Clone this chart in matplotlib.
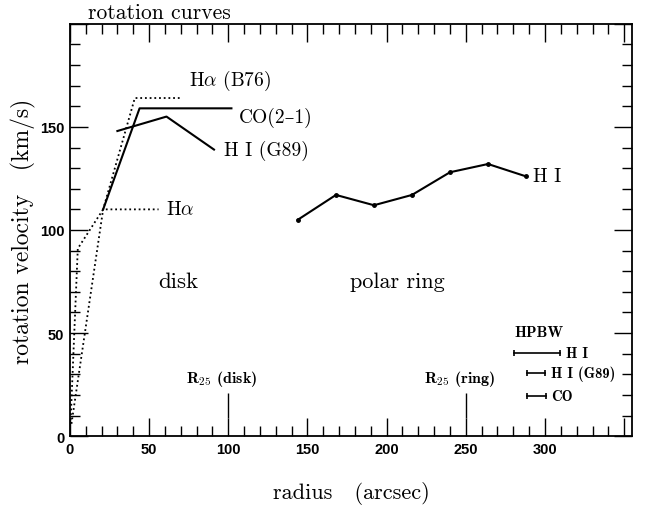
#!/usr/bin/env python3
"""Rotation curves of the disk and the polar ring."""

import matplotlib
matplotlib.use('Agg')
import matplotlib.pyplot as plt
from matplotlib.ticker import MultipleLocator

plt.rcParams['mathtext.fontset'] = 'cm'
plt.rcParams['axes.unicode_minus'] = False

SERIF = ['cmr10', 'DejaVu Serif']
BOLD_SERIF = ['cmb10', 'DejaVu Serif']
TICK_FONT = 'Liberation Sans'

# Disk curves (radius arcsec, velocity km/s)
ha_b76_r = [1, 21, 41, 71]
ha_b76_v = [6, 110, 164, 164]

ha_r = [0.5, 5, 21, 56]
ha_v = [8, 91, 110, 110]

co_r = [21, 44, 102]
co_v = [110, 159, 159]

hi_g89_r = [30, 61, 91]
hi_g89_v = [148, 155, 139]

# Polar ring HI
hi_ring_r = [144, 168, 192, 216, 240, 264, 288]
hi_ring_v = [105, 117, 112, 117, 128, 132, 126]

# R25 markers
r25_pos = [100, 250]
r25_names = ['disk', 'ring']

# HPBW beams
beam_start = [280.5, 288.6, 288.6]
beam_end = [309.5, 300.0, 300.5]
beam_level = [40.3, 30.6, 19.4]
beam_names = ['H I', 'H I (G89)', 'CO']

x_tick_labels = [0, 50, 100, 150, 200, 250, 300]
y_tick_labels = [0, 50, 100, 150]


def main():
    fig = plt.figure(figsize=(6.47, 5.06), dpi=100)
    ax = fig.add_axes([0.108, 0.136, 0.869, 0.815])

    dot = (0, (1, 1.6))
    ax.plot(ha_b76_r, ha_b76_v, color='black', linestyle=dot, linewidth=1.3)
    ax.plot(ha_r, ha_v, color='black', linestyle=dot, linewidth=1.3)
    ax.plot(co_r, co_v, color='black', linewidth=1.5)
    ax.plot(hi_g89_r, hi_g89_v, color='black', linewidth=1.5)
    ax.plot(hi_ring_r, hi_ring_v, color='black', linewidth=1.5,
            marker='o', markersize=2.5)

    # curve labels
    ax.text(75, 173, r'H$\alpha$ (B76)', family=SERIF, fontsize=14, va='center')
    ax.text(106.5, 155, 'CO(2–1)', family=SERIF, fontsize=14, va='center')
    ax.text(97, 139, 'H I (G89)', family=SERIF, fontsize=14, va='center')
    ax.text(60.5, 110, r'H$\alpha$', family=SERIF, fontsize=14, va='center')
    ax.text(292.5, 126, 'H I', family=SERIF, fontsize=14, va='center')

    ax.text(56, 75, 'disk', family=SERIF, fontsize=16.5, va='center')
    ax.text(177, 75, 'polar ring', family=SERIF, fontsize=16, va='center')

    # R25 markers
    ax.vlines(r25_pos, 9, 21, color='black', linewidth=1.0)
    for pos, name in zip(r25_pos, r25_names):
        ax.text(pos - 4, 28, r'R$_{\mathbf{25}}$ (' + name + ')',
                family=BOLD_SERIF, fontsize=11.5, ha='center', va='center')

    # HPBW beams
    ax.text(280.5, 50.5, 'HPBW', family=BOLD_SERIF, fontsize=11, va='center')
    for x0, x1, lev, name in zip(beam_start, beam_end, beam_level, beam_names):
        ax.plot([x0, x1], [lev, lev], color='black', linewidth=1.2,
                marker='|', markersize=5, markeredgewidth=1.2)
        ax.text(x1 + 3.5, lev, name, family=BOLD_SERIF, fontsize=10.5,
                va='center')

    ax.xaxis.set_major_locator(MultipleLocator(50))
    ax.xaxis.set_minor_locator(MultipleLocator(10))
    ax.yaxis.set_major_locator(MultipleLocator(50))
    ax.yaxis.set_minor_locator(MultipleLocator(10))

    ax.tick_params(which='both', direction='in', top=True, right=True,
                   width=1.0)
    ax.tick_params(which='major', length=13)
    ax.tick_params(which='minor', length=7)
    ax.tick_params(axis='x', pad=4)
    ax.tick_params(axis='y', pad=4)

    # labels only on part of the ticks
    xt = list(range(0, 351, 50))
    yt = list(range(0, 201, 50))
    ax.set_xticks(xt)
    ax.set_xticklabels([str(t) if t in x_tick_labels else '' for t in xt])
    ax.set_yticks(yt)
    ax.set_yticklabels([str(t) if t in y_tick_labels else '' for t in yt])
    ax.set_xlim(0, 355)
    ax.set_ylim(0, 200)
    for lab in ax.get_xticklabels() + ax.get_yticklabels():
        lab.set_family(TICK_FONT)
        lab.set_fontweight('bold')
        lab.set_fontsize(10.5)

    for spine in ax.spines.values():
        spine.set_linewidth(1.3)

    ax.set_xlabel('radius   (arcsec)', family=SERIF, fontsize=16, labelpad=18)
    ax.set_ylabel('rotation velocity   (km/s)', family=SERIF, fontsize=17,
                  labelpad=3)

    fig.text(88 / 647, 1 - 13 / 506, 'rotation curves', family=SERIF,
             fontsize=15.5, va='center')

    fig.savefig('out.png', dpi=100)
    plt.close(fig)


if __name__ == '__main__':
    main()
